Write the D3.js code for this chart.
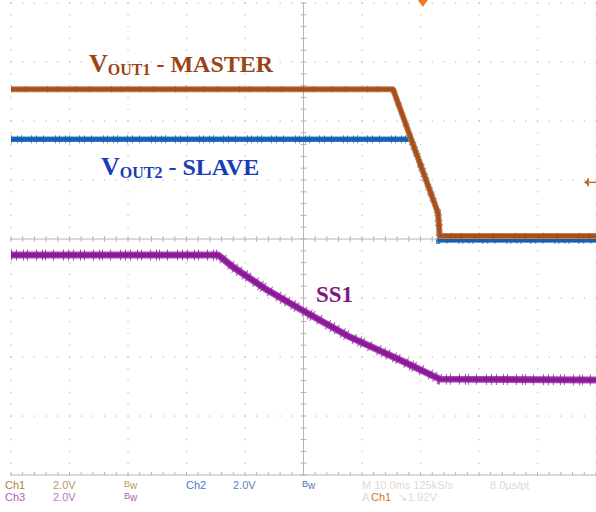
<!DOCTYPE html>
<html><head><meta charset="utf-8">
<script src="https://cdn.jsdelivr.net/npm/d3@7"></script>
<style>
html,body{margin:0;padding:0;background:#fff;}
svg{display:block;}
</style>
</head><body>
<svg id="c" width="596" height="512"></svg>
<script>
// ---- data (time in ms, voltage in V, 2 V/div, 10 ms/div) ----
const ch1Time = [-50, 15.3, 23.0, 23.3, 50];
const ch1Volt = [5.08, 5.08, 0.88, 0.10, 0.10];
const ch2Time = [-50, 18.4, 23.0, 23.3, 50];
const ch2Volt = [3.38, 3.38, 0.88, -0.03, -0.03];
const ch3Time = [-50, -14.6, -12.05, -6.2, -0.6, 7.9, 16.5, 23.3, 50];
const ch3Volt = [4.24, 4.24, 3.83, 3.05, 2.41, 1.46, 0.68, 0.03, 0.0];
const voltsPerDiv = 2;
const chOffsetDiv = [0, 0, -2.39];   // ground position of Ch1, Ch2, Ch3
const xTicks = [-50,-40,-30,-20,-10,0,10,20,30,40,50];
const yTicks = [-4,-3,-2,-1,0,1,2,3,4];
const readoutRow1 = ["Ch1","2.0V","B","Ch2","2.0V","B","M 10.0ms 125kS/s","8.0µs/pt"];
const readoutRow2 = ["Ch3","2.0V","B","A","Ch1","\u2198","1.92V"];
const trigLevelV = 1.92;
const trigTimeMs = 20.4;

const svg = d3.select("#c");
const x = d3.scaleLinear().domain([-50,50]).range([11,596]);
const y = d3.scaleLinear().domain([-4,4]).range([475,3]);

// ---- graticule ----
const g = svg.append("g");
const dotCol = "#c4c4c4";
xTicks.forEach(t=>{
  if (t===0) return;
  const dots = d3.range(-4, 4.001, 0.2);
  g.selectAll(null).data(dots).enter().append("rect")
    .attr("x", x(t)-0.6).attr("y", d=>y(d)-0.6).attr("width",1.3).attr("height",1.3)
    .attr("fill", dotCol);
});
yTicks.forEach(v=>{
  if (v===0 || v===-4) return;
  const dots = d3.range(-50, 50.001, 2);
  g.selectAll(null).data(dots).enter().append("rect")
    .attr("x", d=>x(d)-0.6).attr("y", y(v)-0.6).attr("width",1.3).attr("height",1.3)
    .attr("fill", dotCol);
});
const axCol = "#b8b4ae";
g.append("line").attr("x1",x(-50)).attr("x2",x(50)).attr("y1",y(0)).attr("y2",y(0))
  .attr("stroke",axCol).attr("stroke-width",1);
g.selectAll(null).data(d3.range(-50,50.001,2)).enter().append("line")
  .attr("x1",d=>x(d)).attr("x2",d=>x(d)).attr("y1",y(0)-3).attr("y2",y(0)+3)
  .attr("stroke",axCol).attr("stroke-width",1);
g.append("line").attr("x1",x(-50)).attr("x2",x(50)).attr("y1",y(-4)).attr("y2",y(-4))
  .attr("stroke",axCol).attr("stroke-width",1);
g.selectAll(null).data(d3.range(-50,50.001,2)).enter().append("line")
  .attr("x1",d=>x(d)).attr("x2",d=>x(d)).attr("y1",y(-4)-3).attr("y2",y(-4))
  .attr("stroke",axCol).attr("stroke-width",1);
g.append("line").attr("x1",x(0)).attr("x2",x(0)).attr("y1",y(4)).attr("y2",y(-4))
  .attr("stroke",axCol).attr("stroke-width",1);
g.selectAll(null).data(d3.range(-4,4.001,0.2)).enter().append("line")
  .attr("x1",x(0)-3).attr("x2",x(0)+3).attr("y1",d=>y(d)).attr("y2",d=>y(d))
  .attr("stroke",axCol).attr("stroke-width",1);

function trace(times, volts, ch){
  return times.map((t,i)=>[x(t), y(volts[i]/voltsPerDiv + chOffsetDiv[ch])]);
}
const line = d3.line();
// thick band + short perpendicular "noise" hairlines via an irregular dash pattern
function drawTrace(pts, halo, core, wHalo, wCore, wSpike, spikeDash, spikeOp){
  svg.append("path").attr("d", line(pts)).attr("fill","none")
    .attr("stroke",halo).attr("stroke-width",wHalo).attr("stroke-linejoin","round");
  svg.append("path").attr("d", line(pts)).attr("fill","none")
    .attr("stroke",core).attr("stroke-width",wCore).attr("stroke-linejoin","round");
  if (wSpike > 0)
    svg.append("path").attr("d", line(pts)).attr("fill","none")
      .attr("stroke",core).attr("stroke-width",wSpike).attr("opacity",spikeOp)
      .attr("stroke-dasharray",spikeDash);
}
// Ch3 (SS1)
drawTrace(trace(ch3Time,ch3Volt,2), "#a84cb6", "#8c1a98", 7, 4.5, 11,
  "1 4 1 6 1 3 1 8 1 5 1 2 1 7 1 9 1 4", 0.75);
// Ch2 (VOUT2)
drawTrace(trace(ch2Time,ch2Volt,1), "#3c7cc0", "#1660b0", 5.5, 4, 8,
  "1 5 1 3 1 9 1 4 1 6 1 11 1 3", 0.7);
// Ch1 (VOUT1) drawn on top
drawTrace(trace(ch1Time,ch1Volt,0), "#c88050", "#a4501a", 6, 4, 7,
  "1 13 1 21 1 9 1 17", 0.5);

// ---- markers ----
const tx = x(trigTimeMs);
svg.append("path").attr("d",`M${tx-5},0 L${tx+5},0 L${tx},7 Z`).attr("fill","#f07a20");
const ty = y(trigLevelV/voltsPerDiv + chOffsetDiv[0]);
svg.append("line").attr("x1",585).attr("x2",596).attr("y1",ty).attr("y2",ty)
  .attr("stroke","#c07030").attr("stroke-width",1.5);
svg.append("line").attr("x1",588).attr("x2",588).attr("y1",ty-4).attr("y2",ty+4)
  .attr("stroke","#c07030").attr("stroke-width",1.5);
svg.append("path").attr("d",`M${584},${ty} L${589},${ty-4} L${589},${ty+4} Z`).attr("fill","#c07030");

// ---- labels ----
const serif = "'Liberation Serif','Times New Roman',serif";
function vlabel(xp, yp, sub, rest, col){
  const t = svg.append("text").attr("x",xp).attr("y",yp)
    .attr("font-family",serif).attr("font-weight","bold").attr("fill",col);
  t.append("tspan").attr("font-size",26).text("V");
  t.append("tspan").attr("font-size",16).attr("dy",3).text(sub);
  t.append("tspan").attr("font-size",24).attr("dy",-3).text(rest);
}
vlabel(89, 72, "OUT1", " - MASTER", "#9a4416");
vlabel(101, 175, "OUT2", " - SLAVE", "#1a3cb8");
svg.append("text").attr("x",316).attr("y",302).attr("font-family",serif)
  .attr("font-weight","bold").attr("font-size",23).attr("fill","#7e1a7c").text("SS1");

// ---- readout ----
const sans = "'Liberation Sans',Arial,sans-serif";
function readout(s, xp, yp, col){
  const t = svg.append("text").attr("x",xp).attr("y",yp).attr("font-family",sans)
    .attr("font-size",11).attr("fill",col);
  if (s === "B"){
    t.append("tspan").attr("font-size",9).attr("dy",-2).text("B");
    t.append("tspan").attr("font-size",10).attr("dy",2).text("w");
  } else t.text(s);
}
const r1x = [5,53,124,186,233,302,362,490];
const r1c = ["#b87848","#c09468","#c09468","#4a78bc","#5a84c0","#4a78bc","#dcdad8","#dcdad8"];
readoutRow1.forEach((s,i)=>readout(s, r1x[i], 489, r1c[i]));
const r2x = [5,53,124,362,371,398,408];
const r2c = ["#a468b4","#b07cc0","#a468b4","#dcdad8","#d07428","#dcdad8","#dcdad8"];
readoutRow2.forEach((s,i)=>readout(s, r2x[i], 501, r2c[i]));
</script>
</body></html>
